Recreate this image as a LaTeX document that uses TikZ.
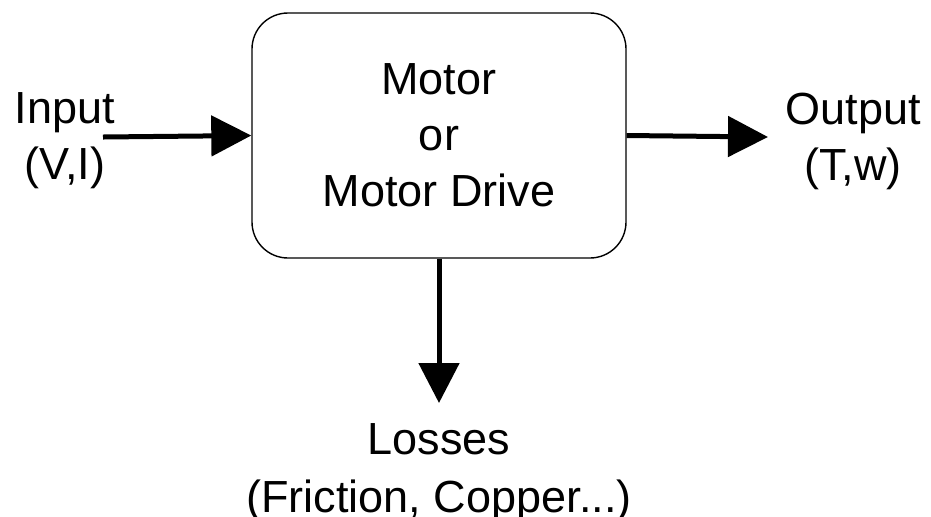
\documentclass[tikz,border=0pt]{standalone}
\usepackage{fontspec}
\setmainfont{Liberation Sans}
\usetikzlibrary{positioning, arrows.meta}

\begin{document}
\begin{tikzpicture}[
        x=0.5pt, y=-0.5pt,
        >={Triangle[length=20pt, width=20pt]},
        every node/.style={font=\fontsize{22.5pt}{28pt}\selectfont, inner sep=0pt},
        block/.style={rectangle, rounded corners=18pt, draw, line width=0.7pt, minimum width=187pt, minimum height=122.5pt, align=center},
        tag/.style={align=center, anchor=north},
        flow/.style={->, line width=2.5pt}
    ]
        \useasboundingbox (0,0) rectangle (931,516);

        % Nodes
        \node[block] (motor) at (439,135.5) {Motor\\or\\Motor Drive};
        \coordinate (inStart) at (103,137);
        \coordinate (outEnd) at (768,137);
        \coordinate (lossEnd) at (439,403);

        \node[tag] (input) at (65,92) {Input\\(V,I)};
        \node[tag] (output) at (853,93) {Output\\(T,w)};
        \node[tag, below=10pt of lossEnd, font=\fontsize{22.5pt}{29pt}\selectfont] (losses) {Losses\\(Friction, Copper...)};

        % Arrows
        \draw[flow] (inStart) -- (motor.west);
        \draw[flow] (motor.east) -- (outEnd);
        \draw[flow] (motor.south) -- (lossEnd);

    \end{tikzpicture}
\end{document}
